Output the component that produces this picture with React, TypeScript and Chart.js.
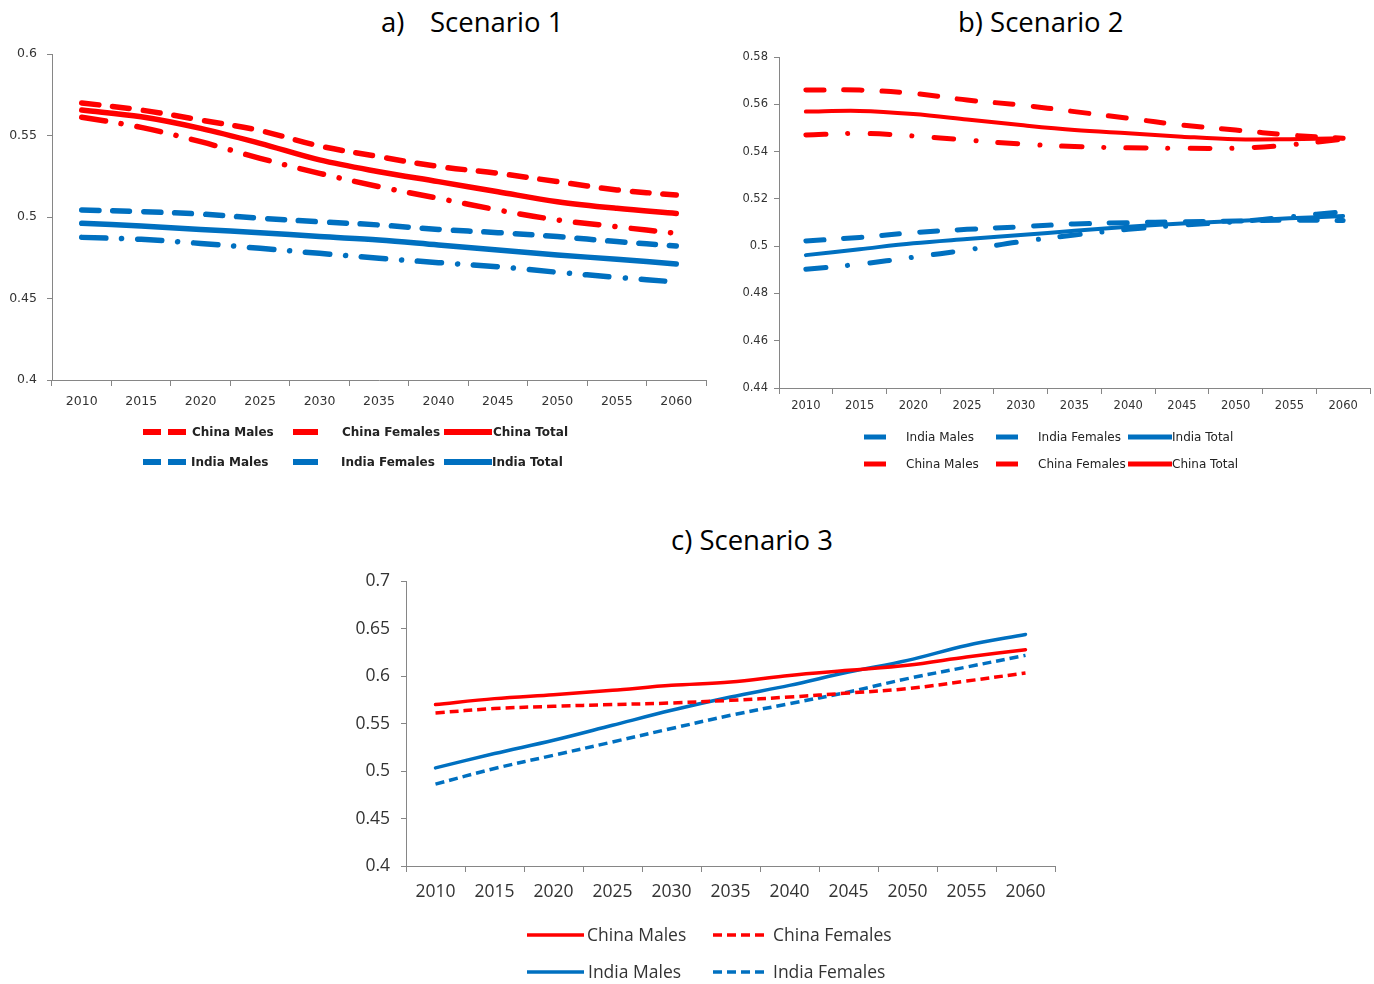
import React, { useEffect, useRef } from "react";
import { Chart, registerables } from "chart.js";

Chart.register(...registerables);

const YEARS = ["2010", "2015", "2020", "2025", "2030", "2035", "2040", "2045", "2050", "2055", "2060"];

// Scenario 1
const s1ChinaMales = [0.570, 0.5656, 0.5595, 0.553, 0.5436, 0.537, 0.531, 0.5268, 0.5217, 0.5166, 0.5135];
const s1ChinaFemales = [0.5612, 0.555, 0.5462, 0.536, 0.5268, 0.5186, 0.5115, 0.5043, 0.4982, 0.494, 0.490];
const s1ChinaTotal = [0.5656, 0.5615, 0.5544, 0.5452, 0.535, 0.5278, 0.5217, 0.5155, 0.5094, 0.5053, 0.5022];
const s1IndiaMales = [0.5043, 0.5033, 0.5018, 0.4992, 0.4971, 0.4951, 0.4924, 0.4904, 0.488, 0.4849, 0.4822];
const s1IndiaFemales = [0.4875, 0.4863, 0.4838, 0.4808, 0.4777, 0.4747, 0.472, 0.4695, 0.4661, 0.463, 0.4601];
const s1IndiaTotal = [0.4961, 0.4945, 0.4924, 0.4904, 0.488, 0.4859, 0.4828, 0.4798, 0.4767, 0.4741, 0.4712];

// Scenario 2
const s2ChinaMales = [0.566, 0.566, 0.5646, 0.5618, 0.5597, 0.5569, 0.5541, 0.5512, 0.5491, 0.547, 0.5456];
const s2ChinaFemales = [0.547, 0.5477, 0.5466, 0.5449, 0.5432, 0.5421, 0.5416, 0.5414, 0.5414, 0.5428, 0.5452];
const s2ChinaTotal = [0.5569, 0.5572, 0.5559, 0.5536, 0.5512, 0.5491, 0.5477, 0.5463, 0.5452, 0.5452, 0.5456];
const s2IndiaMales = [0.5022, 0.5037, 0.5057, 0.5071, 0.5082, 0.5094, 0.5099, 0.5103, 0.5106, 0.511, 0.5108];
const s2IndiaFemales = [0.4902, 0.4924, 0.4953, 0.4984, 0.5019, 0.5047, 0.5071, 0.5089, 0.5103, 0.5124, 0.5146];
const s2IndiaTotal = [0.4962, 0.4987, 0.5012, 0.503, 0.5047, 0.5065, 0.5082, 0.5096, 0.5106, 0.5118, 0.5127];

// Scenario 3
const s3ChinaMales = [0.5702, 0.5765, 0.5807, 0.5853, 0.5905, 0.594, 0.601, 0.6063, 0.6116, 0.6203, 0.6281];
const s3ChinaFemales = [0.5614, 0.566, 0.5684, 0.5702, 0.5719, 0.5747, 0.5782, 0.5824, 0.587, 0.595, 0.6035];
const s3IndiaMales = [0.5035, 0.5186, 0.5326, 0.5484, 0.5642, 0.5782, 0.5905, 0.6045, 0.6168, 0.6326, 0.6442];
const s3IndiaFemales = [0.4863, 0.5028, 0.5168, 0.5308, 0.545, 0.5589, 0.5712, 0.5835, 0.5976, 0.6098, 0.6221];

const RED = "#FF0000";
const BLUE = "#0070C0";
const AXIS = "#868686";

type DS = { data: number[]; color: string; dash: number[]; width: number; cap?: string };

type PanelProps = {
  left: number; top: number; width: number; height: number;
  padTop: number; padRight: number; yWidth: number; xHeight: number;
  min: number; max: number; step: number;
  font: any; tickColor: string; yPad: number; xPad: number;
  datasets: DS[];
};

function Panel(p: PanelProps) {
  const ref = useRef<HTMLCanvasElement>(null);
  useEffect(() => {
    if (!ref.current) return;
    const chart = new Chart(ref.current, {
      type: "line",
      data: {
        labels: YEARS,
        datasets: p.datasets.map((d) => ({
          data: d.data,
          borderColor: d.color,
          backgroundColor: d.color,
          borderWidth: d.width,
          borderDash: d.dash,
          borderCapStyle: (d.cap || "round") as any,
          borderJoinStyle: "round" as any,
          pointRadius: 0,
          tension: 0.35,
          fill: false,
        })),
      },
      options: {
        animation: false,
        responsive: true,
        maintainAspectRatio: false,
        layout: { padding: { top: p.padTop, right: p.padRight, left: 0, bottom: 0 } },
        plugins: { legend: { display: false }, tooltip: { enabled: false }, title: { display: false } },
        scales: {
          x: {
            type: "category",
            offset: true,
            grid: { display: true, offset: true, drawOnChartArea: false, drawTicks: true, tickLength: 6, color: AXIS },
            border: { color: AXIS, width: 1 },
            ticks: { font: p.font, color: p.tickColor, padding: p.xPad, maxRotation: 0, autoSkip: false },
            afterFit: (s: any) => { s.height = p.xHeight; },
          },
          y: {
            min: p.min,
            max: p.max,
            grid: { display: true, drawOnChartArea: false, drawTicks: true, tickLength: 5, color: AXIS },
            border: { color: AXIS, width: 1 },
            ticks: {
              stepSize: p.step,
              font: p.font,
              color: p.tickColor,
              padding: p.yPad,
              callback: (v: any) => String(parseFloat(Number(v).toFixed(3))),
            },
            afterFit: (s: any) => { s.width = p.yWidth; },
          },
        },
      },
    });
    return () => chart.destroy();
  }, []);
  return (
    <div style={{ position: "absolute", left: p.left, top: p.top, width: p.width, height: p.height }}>
      <canvas ref={ref} />
    </div>
  );
}

type LegItem = { x0: number; x1: number; y: number; color: string; dash?: string; sw: number; tx: number; text: string };

function Legend({ items, font }: { items: LegItem[]; font: React.CSSProperties }) {
  return (
    <>
      <svg style={{ position: "absolute", left: 0, top: 0 }} width={1374} height={984}>
        {items.map((it, i) => (
          <line key={i} x1={it.x0} x2={it.x1} y1={it.y} y2={it.y} stroke={it.color} strokeWidth={it.sw}
            strokeDasharray={it.dash} strokeLinecap="butt" />
        ))}
      </svg>
      {items.map((it, i) => (
        <div key={"t" + i} style={{ position: "absolute", left: it.tx, top: it.y, transform: "translateY(-50%)", whiteSpace: "nowrap", lineHeight: 1, ...font }}>
          {it.text}
        </div>
      ))}
    </>
  );
}

const legA: LegItem[] = [
  { x0: 143, x1: 187, y: 432, color: RED, dash: "18 7", sw: 6, tx: 192, text: "China Males" },
  { x0: 293, x1: 318, y: 432, color: RED, sw: 6, tx: 342, text: "China Females" },
  { x0: 444, x1: 492, y: 432, color: RED, sw: 6, tx: 493, text: "China Total" },
  { x0: 143, x1: 187, y: 462, color: BLUE, dash: "18 7", sw: 6, tx: 191, text: "India Males" },
  { x0: 293, x1: 318, y: 462, color: BLUE, sw: 6, tx: 341, text: "India Females" },
  { x0: 444, x1: 492, y: 462, color: BLUE, sw: 6, tx: 492, text: "India Total" },
];

const legB: LegItem[] = [
  { x0: 864, x1: 886, y: 437, color: BLUE, sw: 5, tx: 906, text: "India Males" },
  { x0: 996, x1: 1018, y: 437, color: BLUE, sw: 5, tx: 1038, text: "India Females" },
  { x0: 1128, x1: 1172, y: 437, color: BLUE, sw: 5, tx: 1172, text: "India Total" },
  { x0: 864, x1: 886, y: 464, color: RED, sw: 5, tx: 906, text: "China Males" },
  { x0: 996, x1: 1018, y: 464, color: RED, sw: 5, tx: 1038, text: "China Females" },
  { x0: 1128, x1: 1172, y: 464, color: RED, sw: 5, tx: 1172, text: "China Total" },
];

const legC: LegItem[] = [
  { x0: 527, x1: 584, y: 935, color: RED, sw: 3.5, tx: 587, text: "China Males" },
  { x0: 713, x1: 767, y: 935, color: RED, dash: "9 5", sw: 3.5, tx: 773, text: "China Females" },
  { x0: 527, x1: 584, y: 972, color: BLUE, sw: 3.5, tx: 588, text: "India Males" },
  { x0: 713, x1: 767, y: 972, color: BLUE, dash: "9 5", sw: 3.5, tx: 773, text: "India Females" },
];

const titleStyle: React.CSSProperties = {
  position: "absolute", fontFamily: "'Open Sans'", fontSize: 27.5, color: "#000", whiteSpace: "pre", lineHeight: 1, transform: "translateY(-50%)",
};

export default function App() {
  const fontAB = { family: "'DejaVu Sans'", size: 12.5 };
  const fontB = { family: "'DejaVu Sans'", size: 11.5 };
  const fontC = { family: "'Open Sans'", size: 17.5 };
  return (
    <div style={{ position: "absolute", left: 0, top: 0, width: 1374, height: 984, background: "#fff", overflow: "hidden" }}>
      <div style={{ ...titleStyle, left: 381, top: 22 }}>{"a)"}</div>
      <div style={{ ...titleStyle, left: 430, top: 22 }}>{"Scenario 1"}</div>
      <div style={{ ...titleStyle, left: 958, top: 22 }}>{"b) Scenario 2"}</div>
      <div style={{ ...titleStyle, left: 671, top: 540 }}>{"c) Scenario 3"}</div>

      <Panel left={0} top={36} width={716} height={374} padTop={18} padRight={10} yWidth={52} xHeight={30}
        min={0.4} max={0.6} step={0.05} font={fontAB} tickColor="#333" yPad={10} xPad={8}
        datasets={[
          { data: s1IndiaFemales, color: BLUE, dash: [24, 16, 0.1, 16], width: 5.5 },
          { data: s1IndiaMales, color: BLUE, dash: [17, 14], width: 5.5 },
          { data: s1IndiaTotal, color: BLUE, dash: [], width: 5.5 },
          { data: s1ChinaFemales, color: RED, dash: [24, 16, 0.1, 16], width: 5.5 },
          { data: s1ChinaMales, color: RED, dash: [17, 14], width: 5.5 },
          { data: s1ChinaTotal, color: RED, dash: [], width: 5.5 },
        ]} />

      <Panel left={720} top={40} width={654} height={378} padTop={17} padRight={4} yWidth={59} xHeight={30}
        min={0.44} max={0.58} step={0.02} font={fontB} tickColor="#333" yPad={6} xPad={5}
        datasets={[
          { data: s2IndiaFemales, color: BLUE, dash: [20, 22, 0.1, 22], width: 5 },
          { data: s2IndiaMales, color: BLUE, dash: [18, 20], width: 5 },
          { data: s2IndiaTotal, color: BLUE, dash: [], width: 4 },
          { data: s2ChinaFemales, color: RED, dash: [20, 22, 0.1, 22], width: 5 },
          { data: s2ChinaMales, color: RED, dash: [18, 20], width: 5 },
          { data: s2ChinaTotal, color: RED, dash: [], width: 4 },
        ]} />

      <Panel left={340} top={560} width={720} height={346} padTop={21} padRight={5} yWidth={66} xHeight={40}
        min={0.4} max={0.7} step={0.05} font={fontC} tickColor="#333" yPad={11} xPad={10}
        datasets={[
          { data: s3ChinaFemales, color: RED, dash: [9, 5], width: 3.5, cap: "butt" },
          { data: s3IndiaFemales, color: BLUE, dash: [9, 5], width: 3.5, cap: "butt" },
          { data: s3ChinaMales, color: RED, dash: [], width: 3.5 },
          { data: s3IndiaMales, color: BLUE, dash: [], width: 3.5 },
        ]} />

      <Legend items={legA} font={{ fontFamily: "'DejaVu Sans'", fontSize: 12, fontWeight: 700, color: "#222" }} />
      <Legend items={legB} font={{ fontFamily: "'DejaVu Sans'", fontSize: 12, color: "#222" }} />
      <Legend items={legC} font={{ fontFamily: "'Open Sans'", fontSize: 17.5, color: "#333" }} />
    </div>
  );
}
